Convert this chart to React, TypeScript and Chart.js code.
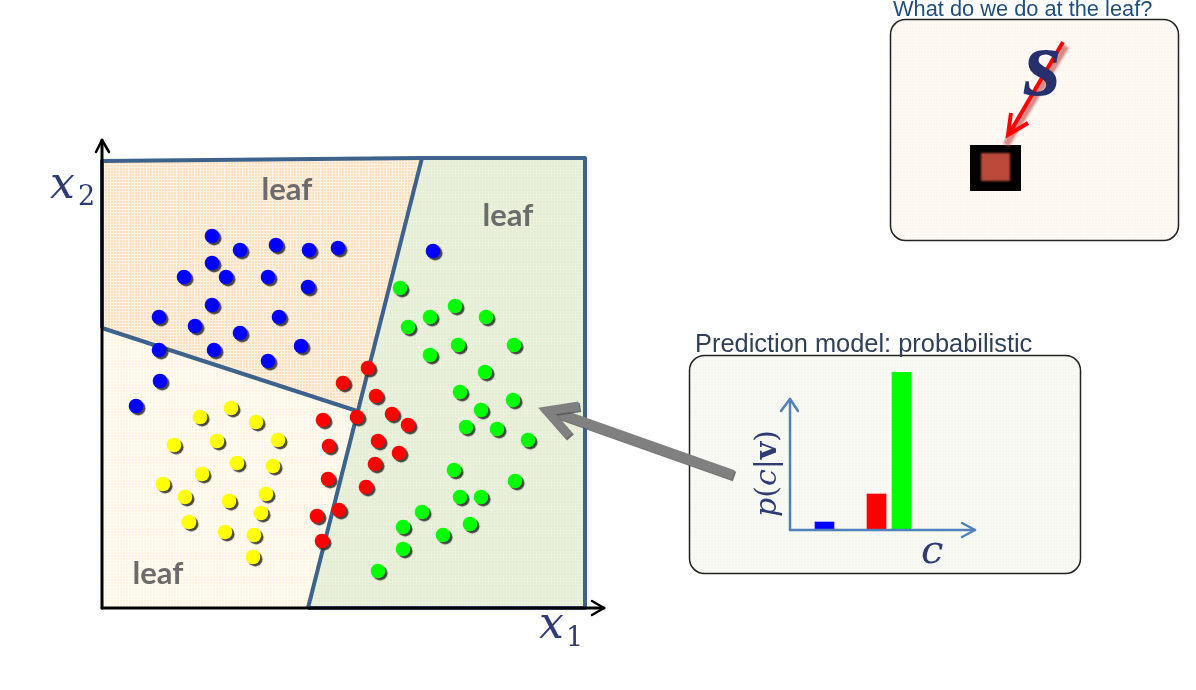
import React, { useEffect, useRef } from "react";
import { Chart, registerables } from "chart.js";

Chart.register(...registerables);

// Feature space: x1 runs 0..483, x2 runs 0..450 (units)
const X1_MAX = 483;
const X2_MAX = 450;

const bluePoints = [
  [110, 372], [138, 358], [174, 363], [207, 358], [236, 360], [110, 345], [82, 331], [124, 331],
  [166, 331], [206, 321], [110, 303], [57, 291], [93, 282], [177, 291], [138, 275], [112, 258],
  [57, 258], [199, 262], [166, 247], [58, 227], [34, 202], [331, 357],
];
const redPoints = [
  [266, 240], [241, 225], [274, 212], [290, 194], [306, 183], [221, 188], [255, 191], [276, 167],
  [227, 162], [297, 155], [273, 144], [226, 129], [264, 121], [237, 98], [215, 92], [220, 67],
];
const greenPoints = [
  [298, 320], [306, 281], [328, 291], [353, 302], [384, 291], [328, 253], [356, 263], [412, 263],
  [383, 236], [358, 216], [411, 208], [379, 198], [364, 181], [395, 179], [426, 168], [352, 138],
  [413, 127], [358, 111], [379, 111], [320, 96], [301, 81], [368, 84], [341, 73], [301, 59], [276, 37],
];
const yellowPoints = [
  [98, 191], [129, 200], [154, 186], [176, 168], [72, 163], [115, 167], [135, 145], [171, 142],
  [100, 134], [61, 124], [83, 111], [127, 107], [164, 114], [159, 95], [87, 86], [123, 76],
  [152, 73], [151, 51],
];

const upperLeftLeaf = [[0, 447], [320, 450], [255, 197], [0, 280]];
const lowerLeftLeaf = [[0, 280], [255, 197], [206, 0], [0, 0]];
const rightLeaf = [[320, 450], [483, 450], [483, 0], [206, 0]];
const outerEdge = [[0, 280], [0, 447], [320, 450], [483, 450], [483, 0], [206, 0]];
const verticalSplit = [[320, 450], [206, 0]];
const diagonalSplit = [[0, 280], [255, 197]];

const leafLabels = [
  { text: "leaf", x: 185, y: 418 },
  { text: "leaf", x: 406, y: 392 },
  { text: "leaf", x: 56, y: 34 },
];

// Inset: predicted class probabilities
const classPositions = [34.5, 86.5, 111.5];
const classProbabilities = [8, 36, 158];
const classColors = ["#0000ff", "#ff0000", "#00ff00"];

const titleLeaf = "What do we do at the leaf?";
const titleModel = "Prediction model: probabilistic";

const NAVY = "#2f3c74";
const EDGE = "#3d628c";

const toPoints = (rows: number[][]) => rows.map(([x, y]) => ({ x, y }));

function makePattern(ctx: CanvasRenderingContext2D, base: string, line: string) {
  const c = document.createElement("canvas");
  c.width = 3;
  c.height = 3;
  const g = c.getContext("2d")!;
  g.fillStyle = base;
  g.fillRect(0, 0, 3, 3);
  g.fillStyle = line;
  g.fillRect(2, 0, 1, 3);
  g.fillRect(0, 2, 3, 1);
  return ctx.createPattern(c, "repeat")!;
}

function rounded(ctx: CanvasRenderingContext2D, x: number, y: number, w: number, h: number, r: number, fill: string) {
  ctx.beginPath();
  ctx.roundRect(x, y, w, h, r);
  ctx.fillStyle = fill;
  ctx.fill();
  ctx.lineWidth = 1.5;
  ctx.strokeStyle = "#222222";
  ctx.stroke();
}

function poly(ctx: CanvasRenderingContext2D, pts: number[][], color: string, width: number, join: CanvasLineJoin = "round", cap: CanvasLineCap = "round") {
  ctx.beginPath();
  pts.forEach(([x, y], i) => (i ? ctx.lineTo(x, y) : ctx.moveTo(x, y)));
  ctx.strokeStyle = color;
  ctx.lineWidth = width;
  ctx.lineJoin = join;
  ctx.lineCap = cap;
  ctx.miterLimit = 6;
  ctx.stroke();
}

const dotShadow = {
  id: "dotShadow",
  beforeDatasetDraw(chart: any, args: any) {
    if (chart.data.datasets[args.index].pointRadius > 0) {
      const { ctx } = chart;
      ctx.save();
      ctx.shadowColor = "rgba(40,40,40,0.85)";
      ctx.shadowOffsetX = 2.2;
      ctx.shadowOffsetY = 2.2;
      ctx.shadowBlur = 1;
    }
  },
  afterDatasetDraw(chart: any, args: any) {
    if (chart.data.datasets[args.index].pointRadius > 0) chart.ctx.restore();
  },
};

const backdrop = {
  id: "backdrop",
  beforeDraw(chart: any) {
    const { ctx } = chart;
    ctx.save();
    rounded(ctx, 890.5, 19.5, 288, 221, 15, makePattern(ctx, "#fdf5ef", "#fef9f5") as any);
    rounded(ctx, 689.5, 355.5, 391, 218, 15, makePattern(ctx, "#f5f7ef", "#f9faf5") as any);
    ctx.restore();
  },
};

const overlay = {
  id: "overlay",
  afterDatasetsDraw(chart: any) {
    const { ctx, scales } = chart;
    ctx.save();
    // axes
    poly(ctx, [[102, 608], [102, 140]], "#000000", 3);
    poly(ctx, [[96, 152], [102, 140], [109, 152]], "#000000", 2.5);
    poly(ctx, [[102, 608], [604, 608]], "#000000", 3);
    poly(ctx, [[592, 601], [604, 608], [592, 615]], "#000000", 2.5);

    // leaf words
    ctx.textAlign = "center";
    ctx.textBaseline = "middle";
    ctx.fillStyle = "#6b6b6b";
    ctx.font = "bold 31px Lato";
    leafLabels.forEach((l) => ctx.fillText(l.text, scales.x.getPixelForValue(l.x), scales.y.getPixelForValue(l.y)));

    // axis names
    ctx.textAlign = "left";
    ctx.textBaseline = "alphabetic";
    ctx.fillStyle = NAVY;
    ctx.font = "italic 44px 'DejaVu Serif'";
    ctx.fillText("x", 50, 198);
    ctx.fillText("x", 539, 638);
    ctx.font = "27px 'DejaVu Serif'";
    ctx.fillText("2", 78, 205);
    ctx.fillText("1", 566, 646);

    // grey pointer
    ctx.save();
    ctx.shadowColor = "rgba(80,80,80,0.8)";
    ctx.shadowOffsetX = 1.5;
    ctx.shadowOffsetY = 1.5;
    poly(ctx, [[733, 475], [552, 411]], "#808080", 10, "miter", "butt");
    poly(ctx, [[579, 406], [547, 411], [569, 436]], "#808080", 9, "miter", "butt");
    ctx.restore();

    // titles
    ctx.font = "21.8px 'Liberation Sans'";
    ctx.fillStyle = "#1f4e80";
    ctx.fillText(titleLeaf, 893, 16);
    ctx.font = "25.4px 'Liberation Sans'";
    ctx.fillStyle = "#2f4058";
    ctx.fillText(titleModel, 695, 352);

    // leaf node and observation
    ctx.fillStyle = "#000000";
    ctx.fillRect(970, 145, 51, 46);
    ctx.save();
    ctx.filter = "blur(1px)";
    ctx.fillStyle = "#bb4a3a";
    ctx.fillRect(981, 153, 29, 28);
    poly(ctx, [[1066, 46], [1006, 145]], "rgba(192,80,77,0.65)", 7, "round", "butt");
    ctx.restore();
    poly(ctx, [[1063, 42], [1009, 134]], "#ff0000", 4, "miter", "butt");
    poly(ctx, [[1011, 113], [1008, 135], [1028, 123]], "#ff0000", 4, "miter", "butt");
    ctx.fillStyle = "#25306c";
    ctx.font = "italic bold 96px 'Liberation Serif'";
    ctx.fillText("s", 1024, 95);
    ctx.restore();
  },
};

const insetDecor = {
  id: "insetDecor",
  afterDatasetsDraw(chart: any) {
    const { ctx, chartArea } = chart;
    const ox = chartArea.left;
    const oy = chartArea.bottom;
    ctx.save();
    const blue = "#4f81bd";
    poly(ctx, [[ox, oy], [ox, oy - 131]], blue, 2.5);
    poly(ctx, [[ox - 9, oy - 119], [ox, oy - 131], [ox + 8, oy - 119]], blue, 2.5);
    poly(ctx, [[ox, oy], [chartArea.right, oy]], blue, 2.5);
    poly(ctx, [[chartArea.right - 13, oy - 7], [chartArea.right, oy], [chartArea.right - 13, oy + 7]], blue, 2.5);

    ctx.fillStyle = NAVY;
    ctx.textBaseline = "alphabetic";
    ctx.textAlign = "left";
    ctx.font = "italic 40px 'DejaVu Serif'";
    ctx.fillText("c", ox + 131, oy + 33);

    // p(c|v), read upwards
    ctx.translate(ox - 14, oy - 13);
    ctx.rotate(-Math.PI / 2);
    const parts: [string, string][] = [
      ["p", "italic 30px 'DejaVu Serif'"],
      ["(", "30px 'DejaVu Serif'"],
      ["c", "italic 30px 'DejaVu Serif'"],
      ["|", "30px 'DejaVu Serif'"],
      ["v", "bold 30px 'DejaVu Serif'"],
      [")", "30px 'DejaVu Serif'"],
    ];
    let at = 0;
    parts.forEach(([s, f]) => {
      ctx.font = f;
      ctx.fillText(s, at, 0);
      at += ctx.measureText(s).width;
    });
    ctx.restore();
  },
};

export default function App() {
  const mainRef = useRef<HTMLCanvasElement>(null);
  const insetRef = useRef<HTMLCanvasElement>(null);

  useEffect(() => {
    document.body.style.margin = "0";
    const ctx = mainRef.current!.getContext("2d")!;
    const dots = (data: number[][], color: string) => ({
      type: "scatter" as const,
      data: toPoints(data),
      pointRadius: 7.3,
      pointBorderWidth: 0,
      pointBackgroundColor: color,
      backgroundColor: color,
      showLine: false,
      clip: false,
    });
    const region = (data: number[][], fillStyle: any) => ({
      data: toPoints(data),
      showLine: true,
      fill: "shape",
      backgroundColor: fillStyle,
      borderWidth: 0,
      borderColor: "rgba(0,0,0,0)",
      pointRadius: 0,
      clip: false,
    });
    const edge = (data: number[][]) => ({
      data: toPoints(data),
      showLine: true,
      fill: false,
      borderColor: EDGE,
      borderWidth: 4,
      borderJoinStyle: "round",
      pointRadius: 0,
      clip: false,
    });

    const main = new Chart(ctx, {
      type: "scatter",
      data: {
        datasets: [
          dots(bluePoints, "#0000ff"),
          dots(redPoints, "#ff0000"),
          dots(greenPoints, "#00ff00"),
          dots(yellowPoints, "#ffff00"),
          edge(diagonalSplit),
          edge(verticalSplit),
          edge(outerEdge),
          region(upperLeftLeaf, makePattern(ctx, "#fddfbd", "#fff1e1")),
          region(lowerLeftLeaf, makePattern(ctx, "#fff3dd", "#fffdf5")),
          region(rightLeaf, makePattern(ctx, "#e4ecd2", "#eaf1de")),
        ] as any,
      },
      options: {
        animation: false,
        responsive: false,
        layout: { padding: { left: 102, right: 611, top: 158, bottom: 82 } },
        plugins: { legend: { display: false }, tooltip: { enabled: false } },
        scales: {
          x: { type: "linear", display: false, min: 0, max: X1_MAX },
          y: { type: "linear", display: false, min: 0, max: X2_MAX },
        },
      },
      plugins: [backdrop, dotShadow, overlay],
    });

    const inset = new Chart(insetRef.current!.getContext("2d")!, {
      type: "bar",
      data: {
        datasets: [
          {
            data: classPositions.map((x, i) => ({ x, y: classProbabilities[i] })),
            backgroundColor: classColors,
            barThickness: 19,
            borderWidth: 0,
          },
        ] as any,
      },
      options: {
        animation: false,
        responsive: false,
        layout: { padding: { left: 101, right: 106, top: 17, bottom: 43 } },
        plugins: { legend: { display: false }, tooltip: { enabled: false } },
        scales: {
          x: { type: "linear", display: false, offset: false, min: 0, max: 185 },
          y: { type: "linear", display: false, min: 0, max: 158 },
        },
      },
      plugins: [insetDecor],
    });

    return () => {
      main.destroy();
      inset.destroy();
    };
  }, []);

  return (
    <div style={{ position: "absolute", left: 0, top: 0, width: 1196, height: 690, background: "#ffffff", overflow: "hidden" }}>
      <canvas ref={mainRef} width={1196} height={690} style={{ position: "absolute", left: 0, top: 0 }} />
      <canvas ref={insetRef} width={392} height={218} style={{ position: "absolute", left: 689, top: 355 }} />
    </div>
  );
}
